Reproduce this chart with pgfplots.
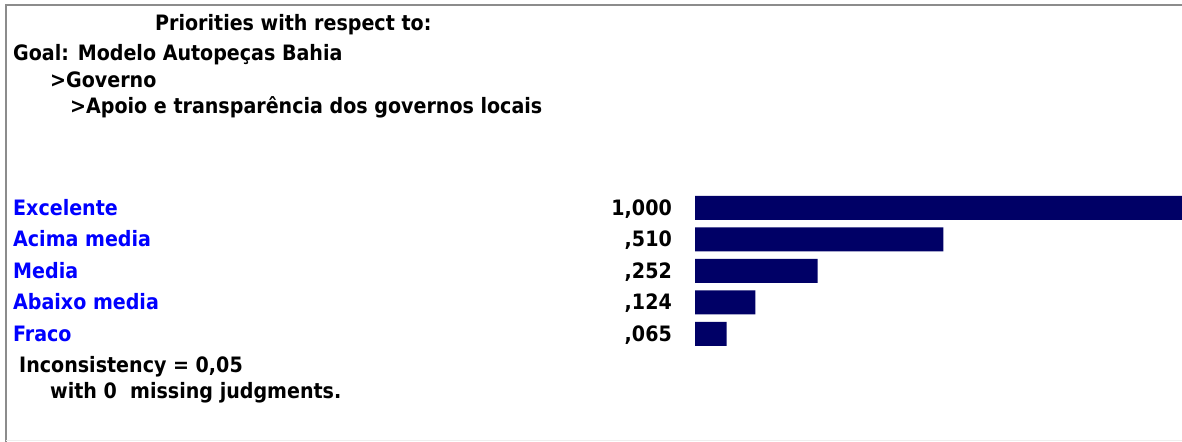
\documentclass[border=0pt]{standalone}
\usepackage{fontspec}
\setmainfont{DejaVu Sans Condensed}
\usepackage{pgfplots}
\pgfplotsset{compat=1.18}
\definecolor{barnavy}{RGB}{0,0,102}
\definecolor{framegray}{RGB}{140,140,140}
\definecolor{lightframe}{RGB}{238,238,238}
\definecolor{labelblue}{RGB}{0,0,255}
\newcommand{\tf}{\fontsize{21.2bp}{24bp}\selectfont\bfseries}
\begin{document}
\begin{tikzpicture}[x=1bp,y=1bp]
\useasboundingbox (0,0) rectangle (1182,442);
\fill[white] (0,0) rectangle (1182,442);
% frame
\draw[framegray, line width=2bp] (5,437) -- (1182,437);
\draw[framegray, line width=2bp] (6,437) -- (6,0);
\draw[lightframe, line width=1bp] (6,1) -- (1182,1);
% header text
\node[anchor=base west, inner sep=0pt, font=\tf] at (155,411) {Priorities with respect to:};
\node[anchor=base west, inner sep=0pt, font=\tf] at (13,381) {Goal: Modelo Autopeças Bahia};
\node[anchor=base west, inner sep=0pt, font=\tf] at (50,354) {>Governo};
\node[anchor=base west, inner sep=0pt, font=\tf] at (70,328) {>Apoio e transparência dos governos locais};
\node[anchor=base west, inner sep=0pt, font=\tf] at (19,69) {Inconsistency = 0,05};
\node[anchor=base west, inner sep=0pt, font=\tf] at (50,43) {with 0\ \ missing judgments.};
\begin{axis}[
  at={(695bp,92.25bp)}, anchor=south west,
  scale only axis, width=487bp, height=157.5bp,
  xmin=0, xmax=1, ymin=-0.5, ymax=4.5,
  y dir=reverse,
  axis line style={draw=none},
  major tick length=0pt,
  xtick=\empty,
  ytick={0,1,2,3,4},
  yticklabels={Excelente, Acima media, Media, Abaixo media, Fraco},
  yticklabel style={anchor=base west, inner sep=0pt, xshift=-682bp, yshift=-7.5bp, text=labelblue, font=\tf},
  clip=false,
]
\addplot[xbar, bar width=24bp, fill=barnavy, draw=none] table[x=v, y=i] {
i v
0 1.000
1 0.510
2 0.252
3 0.124
4 0.065
};
\addplot[draw=none, mark=none, nodes near coords, point meta=explicit,
  every node near coord/.append style={anchor=base east, inner sep=0pt, xshift=-23bp, yshift=-7.5bp, font=\tf, text=black,
    /pgf/number format/.cd, fixed, fixed zerofill, precision=3, use comma, skip 0., assume math mode=true}]
  table[x=z, y=i, meta=v] {
i z v
0 0 1.000
1 0 0.510
2 0 0.252
3 0 0.124
4 0 0.065
};
\end{axis}
\end{tikzpicture}
\end{document}
